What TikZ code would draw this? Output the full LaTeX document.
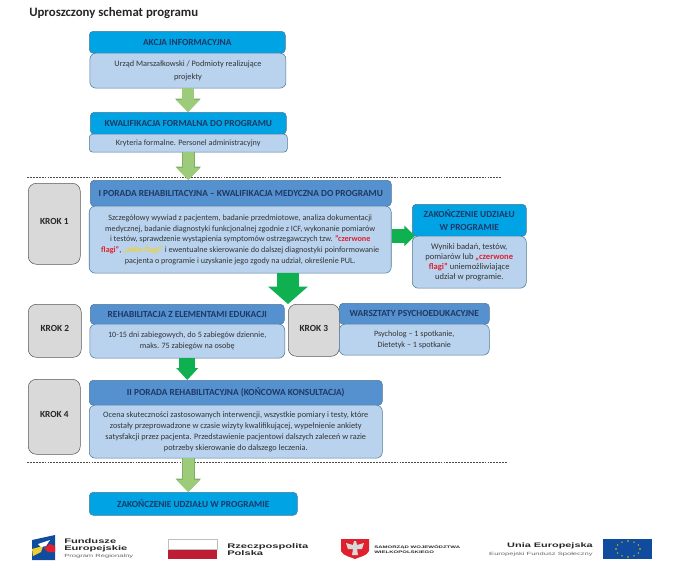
\documentclass[tikz,border=0pt]{standalone}
\usepackage{fontspec}
\setmainfont{Carlito}
\newfontfamily\logofont[FakeStretch=1.67]{Liberation Sans}
\usetikzlibrary{positioning,arrows.meta,calc}

\definecolor{headcyan}{HTML}{00A3E4}
\definecolor{headblue}{HTML}{5591CF}
\definecolor{bodyblue}{HTML}{B9D3EE}
\definecolor{edgeblue}{HTML}{4E7896}
\definecolor{headtext}{HTML}{1F3864}
\definecolor{softgreen}{HTML}{9CCB7A}
\definecolor{softedge}{HTML}{7FB060}
\definecolor{strongreen}{HTML}{0FB04F}
\definecolor{flagred}{HTML}{E0202C}
\definecolor{flagyellow}{HTML}{F0D030}
\definecolor{polred}{HTML}{BE1E34}
\definecolor{eublue}{HTML}{0F4C9E}
\definecolor{starcolor}{HTML}{F2C200}

\begin{document}
\begin{tikzpicture}[
    x=0.75pt, y=0.75pt,
    basebox/.style={draw=edgeblue, rounded corners=3pt, align=center, inner sep=0pt, anchor=north west},
    headbox/.style={basebox, fill=headcyan, text=headtext, font=\fontsize{7}{9.4}\selectfont\bfseries},
    rehabbox/.style={headbox, fill=headblue},
    bodybox/.style={basebox, rounded corners=4.5pt, fill=bodyblue, text=black!80, font=\fontsize{6.1}{8}\selectfont},
    krokbox/.style={draw=black!65, fill=black!15, rounded corners=6pt, anchor=north west, inner sep=0pt, text height=4.5pt, text depth=3pt, font=\fontsize{7}{8}\selectfont\bfseries, text=black!85},
    softarrow/.style={draw=softgreen, line width=8.5pt, -{Triangle[width=17pt,length=9pt]},
        preaction={draw=softedge, line width=9.5pt, -{Triangle[width=18.5pt,length=10pt]}}},
    strongarrow/.style={draw=strongreen, line width=#1},
    sepline/.style={dashed, dash pattern=on 1.4pt off 0.8pt, black!70, line width=0.5pt},
    logotext/.style={inner sep=0pt, anchor=west, align=left, text=black!85}
]
\useasboundingbox (0,0) rectangle (700,-569);

% Title
\node[inner sep=0pt, anchor=west, font=\fontsize{9.6}{11}\selectfont\bfseries, text=black!85] (title) at (29,-13.5)
{Uproszczony schemat programu};

% Information stage
\node[headbox, minimum width=147pt, minimum height=16.5pt] (akcja) at (89,-31)
{AKCJA INFORMACYJNA};
\node[bodybox, below=-0.5pt of akcja, xshift=0.5pt, minimum width=147pt, minimum height=26.25pt, font=\fontsize{6.2}{9.4}\selectfont] (urzad)
{Urząd Marszałkowski / Podmioty realizujące\\projekty};

% Formal qualification
\node[headbox, minimum width=147pt, minimum height=16.5pt] (kwalif) at (90,-112)
{KWALIFIKACJA FORMALNA DO PROGRAMU};
\node[bodybox, rounded corners=2.5pt, below=-0.5pt of kwalif, minimum width=148.5pt, minimum height=13.5pt] (kryteria)
{Kryteria formalne. Personel administracyjny};

% Step 1
\node[krokbox, minimum width=39pt, minimum height=60.75pt] (krok1) at (28,-183) {KROK 1};
\node[rehabbox, minimum width=225.75pt, minimum height=19.5pt] (poradaI) at (90,-180)
{I PORADA REHABILITACYJNA -- KWALIFIKACJA MEDYCZNA DO PROGRAMU};
\node[bodybox, below=-0.5pt of poradaI, xshift=-0.4pt, minimum width=226.5pt, minimum height=50.25pt] (wywiad)
{Szczegółowy wywiad z pacjentem, badanie przedmiotowe,  analiza dokumentacji\\
medycznej, badanie diagnostyki funkcjonalnej zgodnie z ICF, wykonanie pomiarów\\
i testów, sprawdzenie wystąpienia symptomów ostrzegawczych tzw.  {\color{flagred}\bfseries "czerwone}\\
{\color{flagred}\bfseries flagi"}, {\color{flagyellow}\bfseries „żółte flagi"} i ewentualne skierowanie do dalszej diagnostyki poinformowanie\\
pacjenta o programie  i uzyskanie jego zgody na udział, określenie PUL.};

% Early end of participation
\node[headbox, minimum width=85.5pt, minimum height=24pt] (zakonI) at (412,-204)
{ZAKOŃCZENIE UDZIAŁU\\W PROGRAMIE};
\node[bodybox, below=-0.5pt of zakonI, minimum width=85.5pt, minimum height=39pt, font=\fontsize{6.4}{7.6}\selectfont] (wyniki)
{Wyniki badań, testów,\\pomiarów lub {\color{flagred}\bfseries „czerwone}\\{\color{flagred}\bfseries flagi"} uniemożliwiające\\udział w programie.};

% Step 2
\node[krokbox, minimum width=39.75pt, minimum height=39.75pt] (krok2) at (28,-304) {KROK 2};
\node[rehabbox, minimum width=145.5pt, minimum height=15pt] (rehab) at (90,-304)
{REHABILITACJA Z ELEMENTAMI EDUKACJI};
\node[bodybox, below=-0.5pt of rehab, minimum width=146.25pt, minimum height=25.5pt] (dni)
{10-15 dni zabiegowych, do 5 zabiegów dziennie,\\maks. 75 zabiegów na osobę};

% Step 3
\node[krokbox, minimum width=38.25pt, minimum height=39pt] (krok3) at (288,-304) {KROK 3};
\node[rehabbox, minimum width=112.5pt, minimum height=15.75pt] (warsztaty) at (339,-303)
{WARSZTATY PSYCHOEDUKACYJNE};
\node[bodybox, below=-0.5pt of warsztaty, minimum width=112.5pt, minimum height=23.25pt] (psycholog)
{Psycholog -- 1 spotkanie,\\Dietetyk -- 1 spotkanie};

% Step 4
\node[krokbox, minimum width=39pt, minimum height=56.25pt] (krok4) at (28,-379) {KROK 4};
\node[rehabbox, minimum width=219.75pt, minimum height=18.75pt] (poradaII) at (89,-380)
{II PORADA REHABILITACYJNA (KOŃCOWA KONSULTACJA)};
\node[bodybox, below=-0.5pt of poradaII, minimum width=219.75pt, minimum height=39.75pt, font=\fontsize{6.2}{8.3}\selectfont] (ocena)
{Ocena skuteczności zastosowanych interwencji, wszystkie pomiary i testy, które\\
zostały przeprowadzone w czasie wizyty kwalifikującej, wypełnienie ankiety\\
satysfakcji przez pacjenta. Przedstawienie pacjentowi dalszych zaleceń w razie\\
potrzeby skierowanie do dalszego leczenia.};

% End
\node[headbox, minimum width=156pt, minimum height=17.25pt] (koniec) at (89,-492)
{ZAKOŃCZENIE UDZIAŁU W PROGRAMIE};

% Separators
\coordinate (sepAl) at (27,-177);
\coordinate (sepAr) at (501,-177);
\coordinate (sepBl) at (27,-462);
\coordinate (sepBr) at (508,-462);
\draw[sepline] (sepAl) -- (sepAr);
\draw[sepline] (sepBl) -- (sepBr);

% Arrows
\draw[softarrow] (urzad.south) -- (urzad.south |- kwalif.north);
\draw[softarrow] (kryteria.south) -- (kryteria.south |- poradaI.north);
\draw[softarrow] (kryteria.south |- ocena.south) -- (kryteria.south |- koniec.north);
\draw[strongarrow=10pt, -{Triangle[width=15pt,length=8pt]}, shorten >=-2.25pt] (wywiad.east |- wyniki.north) -- (wyniki.north west);
\draw[strongarrow=17pt, -{Triangle[width=29pt,length=13pt]}] (krok3.west |- wywiad.south) -- (krok3.north west);
\draw[strongarrow=12pt, -{Triangle[width=16pt,length=9pt]}] (dni.south) -- (dni.south |- poradaII.north);

% Logo: Fundusze Europejskie
\fill[eublue] (32,-540) -- (55,-535) -- (55,-560) -- (32,-560) -- cycle;
\fill[flagyellow] (32,-549) -- (43,-546) -- (41,-552) -- (33,-556) -- cycle;
\fill[flagred] (44,-548) -- (50,-544) -- (55,-546) -- (55,-552) -- (48,-552) -- cycle;
\fill[white] (38,-544) -- (50,-540) -- (46,-546) -- (41,-547) -- cycle;
\node[logotext, font=\logofont\fontsize{5}{5.3}\selectfont\bfseries] (fundusze) at (64,-545.5) {Fundusze\\Europejskie};
\node[logotext, font=\logofont\fontsize{3.4}{4}\selectfont, text=black!60] (regionalny) at (64,-556) {Program Regionalny};

% Logo: Rzeczpospolita Polska
\fill[polred] (168,-549) rectangle (217,-559);
\draw[black!25, line width=0.3pt] (168,-539) rectangle (217,-549);
\node[logotext, font=\logofont\fontsize{5}{5.3}\selectfont\bfseries] (rzeczpospolita) at (227,-549.5) {Rzeczpospolita\\Polska};

% Logo: Samorzad
\fill[flagred] (341,-539) -- (369,-539) -- (369,-551) .. controls (367,-556) and (359,-557) .. (355,-559)
    .. controls (351,-557) and (343,-556) .. (341,-551) -- cycle;
\fill[white!85!black] (354,-541) -- (356,-541) -- (357,-545) -- (364,-543) -- (362,-549) -- (357,-549) -- (358,-555) -- (352,-555) -- (353,-549) -- (348,-549) -- (346,-543) -- (353,-545) -- cycle;
\node[logotext, font=\logofont\fontsize{2.7}{3.9}\selectfont\bfseries] (samorzad) at (374,-549.5) {SAMORZĄD WOJEWÓDZTWA\\WIELKOPOLSKIEGO};

% Logo: Unia Europejska
\node[logotext, anchor=east, font=\logofont\fontsize{4.9}{6}\selectfont\bfseries] (unia) at (593,-546) {Unia Europejska};
\node[logotext, anchor=east, font=\logofont\fontsize{3.4}{4}\selectfont, text=black!60] (fundusz) at (593,-554) {Europejski Fundusz Społeczny};
\fill[eublue] (603,-539) rectangle (652,-559);
\foreach \a in {0,30,...,330}
    \fill[starcolor] ($(628,-549)+(\a:12 and 8)$) circle (0.8);

\end{tikzpicture}
\end{document}
